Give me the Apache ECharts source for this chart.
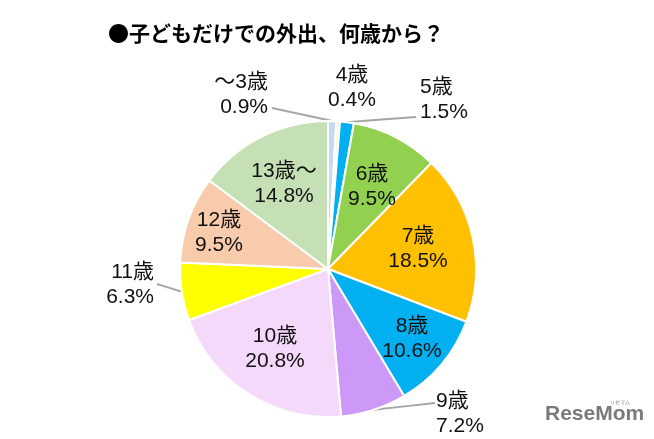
<!DOCTYPE html>
<html><head><meta charset="utf-8">
<script src="https://cdn.jsdelivr.net/npm/echarts@6/dist/echarts.min.js"></script>
<style>html,body{margin:0;padding:0;background:#fff}#c{width:654px;height:439px}</style>
</head><body><div id="c"></div>
<script>
const titleText = '●子どもだけでの外出、何歳から？';
const categories = ['～3歳','4歳','5歳','6歳','7歳','8歳','9歳','10歳','11歳','12歳','13歳～'];
const values = [0.9, 0.4, 1.5, 9.5, 18.5, 10.6, 7.2, 20.8, 6.3, 9.5, 14.8];
const colors = ['#c5d9f1','#fbf4de','#00b0f0','#92d050','#ffc000','#00b0f0','#cc99f9','#f5d9fa','#ffff00','#f8cbad','#c5e0b4'];

const CX = 328, CY = 269, R = 148;
// label placement (layout only)
const labelPlace = {
  '～3歳': {x: 268, y: 95, align: 'right', line: [272, 108], out: true},
  '4歳':  {x: 352, y: 88, align: 'center', line: null, out: true},
  '5歳':  {x: 420, y: 100, align: 'left', line: [416, 117], out: true},
  '6歳':  {x: 372, y: 187, align: 'center'},
  '7歳':  {x: 418, y: 249, align: 'center'},
  '8歳':  {x: 412, y: 339, align: 'center'},
  '9歳':  {x: 436, y: 414, align: 'left', line: [435, 403], out: true},
  '10歳': {x: 275, y: 349, align: 'center'},
  '11歳': {x: 154, y: 285, align: 'right', line: [157, 284], out: true},
  '12歳': {x: 219, y: 233, align: 'center'},
  '13歳～': {x: 284, y: 184, align: 'center'}
};

const chart = echarts.init(document.getElementById('c'));
const data = categories.map((n, i) => {
  const pl = labelPlace[n];
  return {
    name: n, value: values[i],
    itemStyle: {color: colors[i]},
    label: {position: pl.out ? 'outside' : 'inside'},
    labelLine: {show: !!(pl.out && pl.line)}
  };
});
chart.setOption({
  animation: false,
  title: {
    text: titleText, left: 103, top: 18,
    textStyle: {fontFamily: 'Noto Sans CJK JP', fontWeight: 'bold', fontSize: 21, color: '#000'}
  },
  graphic: [
    {type: 'text', left: 545, top: 404, style: {text: 'ReseMom', font: 'bold 21px "Liberation Sans", sans-serif', fill: '#7a7a7a'}},
    {type: 'text', left: 610, top: 400, style: {text: 'リセマム', font: '5px "Noto Sans CJK JP"', fill: '#808080'}}
  ],
  series: [{
    type: 'pie',
    center: [CX, CY],
    radius: R,
    startAngle: 90,
    clockwise: true,
    avoidLabelOverlap: false,
    emphasis: {disabled: true},
    itemStyle: {borderColor: '#fff', borderWidth: 2},
    label: {
      show: true,
      formatter: p => p.name + '\n' + p.value.toFixed(1) + '%',
      fontFamily: '"Liberation Sans", "Noto Sans CJK JP"',
      fontSize: 21,
      lineHeight: 25,
      color: '#111'
    },
    labelLine: {lineStyle: {color: '#a6a6a6', width: 2}, length: 10, length2: 10},
    labelLayout: function (p) {
      const o = labelPlace[categories[p.dataIndex]];
      const res = {x: o.x, y: o.y, align: o.align, verticalAlign: 'middle'};
      if (o.line && p.labelLinePoints) {
        const s = p.labelLinePoints[0];
        res.labelLinePoints = [s, [(s[0] + o.line[0]) / 2, (s[1] + o.line[1]) / 2], o.line];
      }
      return res;
    },
    data: data
  }]
});
</script></body></html>
